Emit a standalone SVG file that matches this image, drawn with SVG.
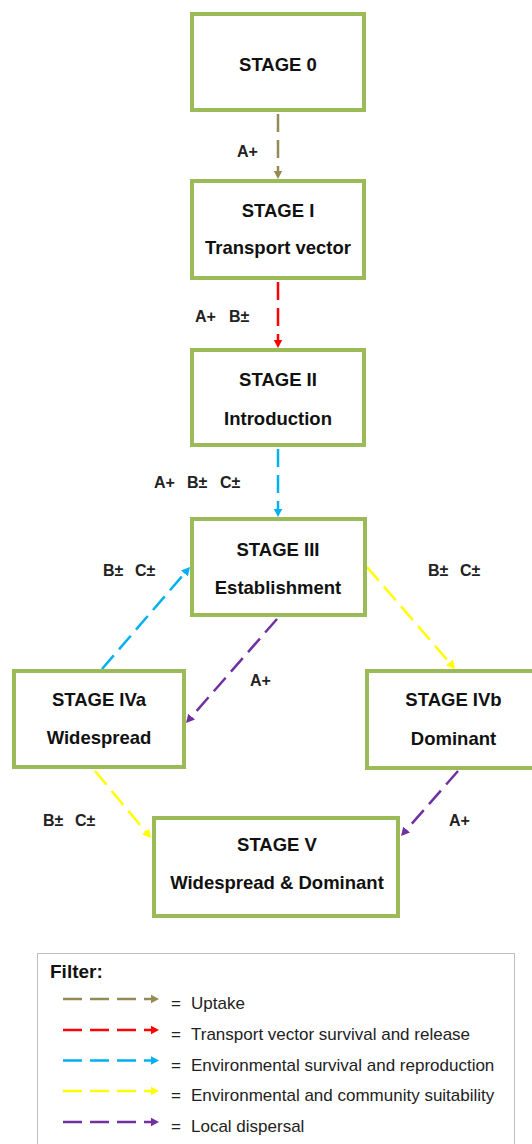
<svg xmlns="http://www.w3.org/2000/svg" width="532" height="1144" viewBox="0 0 532 1144">
<style>
.box{fill:#fff;stroke:#9BBB59;stroke-width:4}
.t{font-family:"Liberation Sans",Arial,sans-serif;font-weight:bold;font-size:18.5px;fill:#111;text-anchor:middle}
.lbl{font-family:"Liberation Sans",Arial,sans-serif;font-weight:bold;font-size:16px;fill:#222}
.c{fill:none;stroke-width:2.5;stroke-dasharray:18 8}
.lg{fill:none;stroke-width:2.5;stroke-dasharray:19 8}
.lt{font-family:"Liberation Sans",Arial,sans-serif;font-size:17px;fill:#222}
</style>
<defs>
<marker id="aO" markerUnits="userSpaceOnUse" markerWidth="9" markerHeight="10" viewBox="0 0 9 10" refX="0.5" refY="5" orient="auto"><path d="M0,0.5 L8.5,5 L0,9.5 z" fill="#948A54"/></marker>
<marker id="aR" markerUnits="userSpaceOnUse" markerWidth="9" markerHeight="10" viewBox="0 0 9 10" refX="0.5" refY="5" orient="auto"><path d="M0,0.5 L8.5,5 L0,9.5 z" fill="#FF0000"/></marker>
<marker id="aC" markerUnits="userSpaceOnUse" markerWidth="9" markerHeight="10" viewBox="0 0 9 10" refX="0.5" refY="5" orient="auto"><path d="M0,0.5 L8.5,5 L0,9.5 z" fill="#00B0F0"/></marker>
<marker id="aY" markerUnits="userSpaceOnUse" markerWidth="9" markerHeight="10" viewBox="0 0 9 10" refX="0.5" refY="5" orient="auto"><path d="M0,0.5 L8.5,5 L0,9.5 z" fill="#FFFF00"/></marker>
<marker id="aP" markerUnits="userSpaceOnUse" markerWidth="9" markerHeight="10" viewBox="0 0 9 10" refX="0.5" refY="5" orient="auto"><path d="M0,0.5 L8.5,5 L0,9.5 z" fill="#7030A0"/></marker>
</defs>

<g id="connectors">
<line class="c" x1="278" y1="114" x2="278" y2="171" stroke="#948A54" marker-end="url(#aO)"/>
<line class="c" x1="278" y1="282" x2="278" y2="340" stroke="#FF0000" marker-end="url(#aR)"/>
<line class="c" x1="278" y1="449" x2="278" y2="509" stroke="#00B0F0" marker-end="url(#aC)"/>
<line class="c" x1="102" y1="669" x2="184.8" y2="573.1" stroke="#00B0F0" marker-end="url(#aC)"/>
<line class="c" x1="367" y1="567" x2="449.8" y2="662.9" stroke="#FFFF00" marker-end="url(#aY)"/>
<line class="c" x1="277" y1="619" x2="191.3" y2="717" stroke="#7030A0" marker-end="url(#aP)"/>
<line class="c" x1="95" y1="771" x2="145.9" y2="831.9" stroke="#FFFF00" marker-end="url(#aY)"/>
<line class="c" x1="458" y1="771" x2="406.3" y2="830" stroke="#7030A0" marker-end="url(#aP)"/>
<text class="lbl" x="237" y="157">A+</text>
<text class="lbl" y="322"><tspan x="195">A+</tspan><tspan x="229">B±</tspan></text>
<text class="lbl" y="488"><tspan x="154">A+</tspan><tspan x="187">B±</tspan><tspan x="220">C±</tspan></text>
<text class="lbl" y="576"><tspan x="103">B±</tspan><tspan x="135">C±</tspan></text>
<text class="lbl" y="576"><tspan x="428">B±</tspan><tspan x="460">C±</tspan></text>
<text class="lbl" x="250" y="686">A+</text>
<text class="lbl" y="826"><tspan x="43">B±</tspan><tspan x="75">C±</tspan></text>
<text class="lbl" x="449" y="826">A+</text>
</g>

<g id="stage0"><rect class="box" x="192" y="14" width="172" height="96"/><text class="t" x="278" y="71">STAGE 0</text></g>
<g id="stage1"><rect class="box" x="192" y="181" width="172" height="97"/><text class="t" x="278" y="217">STAGE I</text><text class="t" x="278" y="254">Transport vector</text></g>
<g id="stage2"><rect class="box" x="192" y="350" width="172" height="95"/><text class="t" x="278" y="386">STAGE II</text><text class="t" x="278" y="425">Introduction</text></g>
<g id="stage3"><rect class="box" x="192" y="519" width="173" height="96"/><text class="t" x="278" y="556">STAGE III</text><text class="t" x="278" y="594">Establishment</text></g>
<g id="stage4a"><rect class="box" x="14" y="671" width="170" height="96"/><text class="t" x="99" y="706">STAGE IVa</text><text class="t" x="99" y="744">Widespread</text></g>
<g id="stage4b"><rect class="box" x="367" y="671" width="173" height="97"/><text class="t" x="453.5" y="706">STAGE IVb</text><text class="t" x="453.5" y="745">Dominant</text></g>
<g id="stage5"><rect class="box" x="154" y="818" width="244" height="98"/><text class="t" x="277" y="851">STAGE V</text><text class="t" x="277" y="889">Widespread &amp; Dominant</text></g>

<g id="legend">
<rect x="37.5" y="953.5" width="477" height="200" fill="#fff" stroke="#BFBFBF" stroke-width="1"/>
<text x="50" y="978" style="font-family:'Liberation Sans',Arial,sans-serif;font-weight:bold;font-size:19px;fill:#111">Filter:</text>
<line class="lg" x1="63" y1="999" x2="151" y2="999" stroke="#948A54" marker-end="url(#aO)"/>
<line class="lg" x1="63" y1="1030" x2="151" y2="1030" stroke="#FF0000" marker-end="url(#aR)"/>
<line class="lg" x1="63" y1="1060.5" x2="151" y2="1060.5" stroke="#00B0F0" marker-end="url(#aC)"/>
<line class="lg" x1="63" y1="1091" x2="151" y2="1091" stroke="#FFFF00" marker-end="url(#aY)"/>
<line class="lg" x1="63" y1="1122" x2="151" y2="1122" stroke="#7030A0" marker-end="url(#aP)"/>
<text class="lt" y="1009"><tspan x="171">=</tspan><tspan x="191">Uptake</tspan></text>
<text class="lt" y="1040"><tspan x="171">=</tspan><tspan x="191">Transport vector survival and release</tspan></text>
<text class="lt" y="1070.5"><tspan x="171">=</tspan><tspan x="191">Environmental survival and reproduction</tspan></text>
<text class="lt" y="1101"><tspan x="171">=</tspan><tspan x="191">Environmental and community suitability</tspan></text>
<text class="lt" y="1132"><tspan x="171">=</tspan><tspan x="191">Local dispersal</tspan></text>
</g>
</svg>
